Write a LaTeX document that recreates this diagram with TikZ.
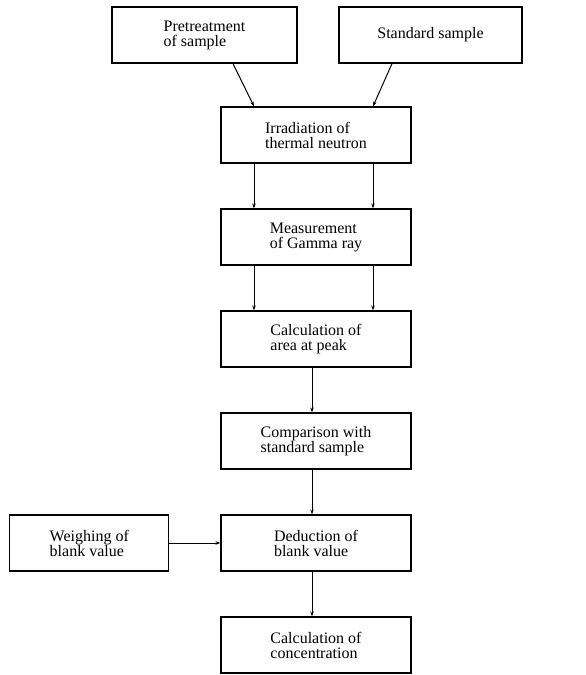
\documentclass[tikz,border=0pt]{standalone}
\usepackage{fontspec}
\setmainfont{Liberation Serif}
\usetikzlibrary{positioning, arrows.meta}

\begin{document}
\begin{tikzpicture}[x=1pt, y=-1pt, >={Stealth[length=5pt, width=3.5pt]}, node distance=44.8pt]
    \tikzstyle{format} = [draw, line width=1.2pt, rectangle, minimum width=190pt, minimum height=56pt, inner sep=2pt, align=left, text=black, font=\fontsize{16}{15}\selectfont]
    \tikzstyle{link} = [->, line width=1pt]

    \useasboundingbox (0,0) rectangle (586,675);

    % Top row
    \node[format, minimum width=185pt] (pretreat) at (204.5,35) {Pretreatment\\of sample};
    \node[format, minimum width=183pt] (standard) at (430.5,35) {Standard sample};

    % Main column
    \node[format] (irradiate) at (316,135) {Irradiation of\\thermal neutron};
    \node[format, below=of irradiate] (measure) {Measurement\\of Gamma ray};
    \node[format, below=of measure] (area) {Calculation of\\area at peak};
    \node[format, below=of area] (compare) {Comparison with\\standard sample};
    \node[format, below=of compare] (deduct) {Deduction of\\blank value};
    \node[format, below=of deduct] (concentr) {Calculation of\\concentration};

    % Side box
    \node[format, minimum width=159pt, left=51pt of deduct] (weigh) {Weighing of\\blank value};

    % Edges
    \path[link]
        ([xshift=28.5pt]pretreat.south) edge ([xshift=-62pt]irradiate.north)
        ([xshift=-38.5pt]standard.south) edge ([xshift=57pt]irradiate.north)
        ([xshift=-62pt]irradiate.south) edge ([xshift=-62pt]measure.north)
        ([xshift=57pt]irradiate.south) edge ([xshift=57pt]measure.north)
        ([xshift=-62pt]measure.south) edge ([xshift=-62pt]area.north)
        ([xshift=57pt]measure.south) edge ([xshift=57pt]area.north)
        ([xshift=-4pt]area.south) edge ([xshift=-4pt]compare.north)
        ([xshift=-4pt]compare.south) edge ([xshift=-4pt]deduct.north)
        (weigh) edge (deduct)
        ([xshift=-4pt]deduct.south) edge ([xshift=-4pt]concentr.north);
\end{tikzpicture}
\end{document}
